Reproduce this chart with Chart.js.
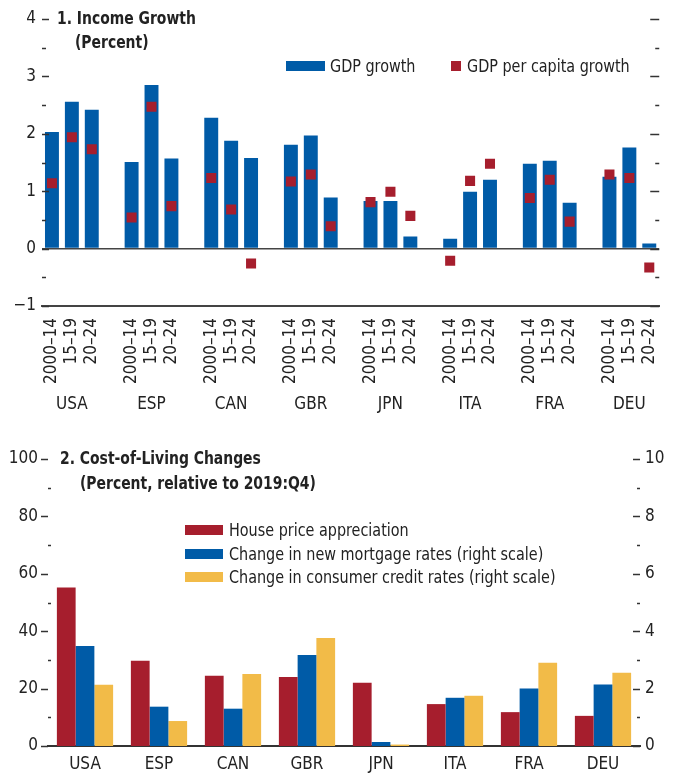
<!DOCTYPE html>
<html lang="en">
<head>
    <meta charset="UTF-8">
    <title>Income Growth and Cost-of-Living Changes</title>
    <script src="https://cdn.jsdelivr.net/npm/chart.js"></script>
    <style>
        body {
            margin: 0;
            background: white;
            font-family: "Liberation Sans Narrow", "DejaVu Sans Condensed", "Liberation Sans", sans-serif;
            color: #222;
        }
        #wrap {
            position: relative;
            width: 682px;
            height: 776px;
        }
        .box {
            position: absolute;
            left: 0;
            width: 682px;
        }
        .txt {
            position: absolute;
            white-space: nowrap;
            font-size: 17px;
            line-height: 22px;
            transform: scaleX(0.94);
            transform-origin: left center;
        }
        .title {
            font-weight: bold;
            font-size: 18px;
            line-height: 24px;
            transform: scaleX(0.86);
        }
        .swatch { position: absolute; }
    </style>
</head>
<body>
<div id="wrap">
    <div class="box" style="top:0;height:430px;"><canvas id="incomeChart"></canvas></div>
    <div class="box" style="top:430px;height:346px;"><canvas id="costChart"></canvas></div>

    <div class="txt title" style="left:57px;top:6px;">1. Income Growth</div>
    <div class="txt title" style="left:75px;top:30px;">(Percent)</div>

    <div class="swatch" style="left:286px;top:61px;width:39px;height:10px;background:#005BA7;"></div>
    <div class="txt" style="left:330px;top:55px;">GDP growth</div>
    <div class="swatch" style="left:451px;top:61px;width:10px;height:10px;background:#A61E2D;"></div>
    <div class="txt" style="left:467px;top:55px;">GDP per capita growth</div>

    <div class="txt title" style="left:60px;top:446px;">2. Cost-of-Living Changes</div>
    <div class="txt title" style="left:80px;top:471px;">(Percent, relative to 2019:Q4)</div>

    <div class="swatch" style="left:185px;top:525px;width:38px;height:10px;background:#A61E2D;"></div>
    <div class="txt" style="left:229px;top:519px;">House price appreciation</div>
    <div class="swatch" style="left:185px;top:549px;width:38px;height:10px;background:#005BA7;"></div>
    <div class="txt" style="left:229px;top:543px;">Change in new mortgage rates (right scale)</div>
    <div class="swatch" style="left:185px;top:572px;width:38px;height:10px;background:#F2BB48;"></div>
    <div class="txt" style="left:229px;top:566px;">Change in consumer credit rates (right scale)</div>
</div>

<script>
    const FONT = '"Liberation Sans Narrow", "DejaVu Sans Condensed", "Liberation Sans", sans-serif';
    const BLUE = '#005BA7';
    const RED = '#A61E2D';
    const YELLOW = '#F2BB48';
    const INK = '#222';

    // panel 1: income growth, percent
    const countries = ['USA', 'ESP', 'CAN', 'GBR', 'JPN', 'ITA', 'FRA', 'DEU'];
    const periods = ['2000\u201314', '15\u201319', '20\u201324'];
    const gdpGrowth = [
        2.03, 2.56, 2.42,
        1.51, 2.85, 1.57,
        2.28, 1.88, 1.58,
        1.81, 1.97, 0.89,
        0.83, 0.83, 0.21,
        0.17, 0.99, 1.20,
        1.48, 1.53, 0.80,
        1.25, 1.76, 0.09
    ];
    const gdpPerCapitaGrowth = [
        1.14, 1.94, 1.73,
        0.54, 2.47, 0.74,
        1.23, 0.68, -0.26,
        1.17, 1.29, 0.39,
        0.81, 0.99, 0.57,
        -0.21, 1.18, 1.48,
        0.88, 1.20, 0.47,
        1.29, 1.23, -0.33
    ];
    const incomeTickLabels = [-1, 0, 1, 2, 3, 4];

    // panel 2: cost of living, percent relative to 2019:Q4
    const housePrice = [55.2, 29.7, 24.5, 24.0, 22.0, 14.6, 11.8, 10.5];
    const mortgageRates = [3.48, 1.37, 1.30, 3.17, 0.14, 1.68, 2.00, 2.14];
    const consumerRates = [2.13, 0.87, 2.51, 3.76, 0.05, 1.75, 2.90, 2.55];
    const leftTickLabels = [0, 20, 40, 60, 80, 100];
    const rightTickLabels = [0, 2, 4, 6, 8, 10];

    Chart.defaults.font.family = FONT;
    Chart.defaults.font.size = 17;
    Chart.defaults.color = INK;

    const fmt = v => (v < 0 ? '\u2212' + Math.abs(v) : String(v));

    // small tick marks on the plot edges, major ones longer
    const edgeTicks = {
        id: 'edgeTicks',
        afterDraw(chart, args, opts) {
            const {ctx, chartArea} = chart;
            ctx.save();
            ctx.strokeStyle = '#333';
            ctx.lineWidth = 1.5;
            opts.sides.forEach(side => {
                const scale = chart.scales[side.axis];
                scale.ticks.forEach(t => {
                    const y = Math.round(scale.getPixelForValue(t.value)) + 0.5;
                    const major = side.labels.includes(t.value);
                    const seg = major ? side.major : side.minor;
                    const x0 = side.edge === 'left' ? chartArea.left : chartArea.right;
                    ctx.beginPath();
                    ctx.moveTo(x0 + seg[0], y);
                    ctx.lineTo(x0 + seg[1], y);
                    ctx.stroke();
                });
            });
            ctx.restore();
        }
    };

    // build the 31 slots of panel 1, one empty slot between countries
    const slotPeriods = [], slotCountries = [], slotGdp = [], slotPerCapita = [];
    countries.forEach((c, i) => {
        if (i > 0) {
            slotPeriods.push(''); slotCountries.push('');
            slotGdp.push(null); slotPerCapita.push(null);
        }
        periods.forEach((p, j) => {
            slotPeriods.push(p);
            slotCountries.push(j === 1 ? c : '');
            slotGdp.push(gdpGrowth[i * 3 + j]);
            slotPerCapita.push(gdpPerCapitaGrowth[i * 3 + j]);
        });
    });

    new Chart(document.getElementById('incomeChart'), {
        type: 'bar',
        data: {
            labels: slotPeriods,
            datasets: [
                {
                    type: 'line',
                    label: 'GDP per capita growth',
                    data: slotPerCapita,
                    showLine: false,
                    pointStyle: 'rect',
                    pointRadius: 7.1,
                    pointBorderWidth: 0,
                    pointBackgroundColor: RED,
                    order: 1
                },
                {
                    type: 'bar',
                    label: 'GDP growth',
                    data: slotGdp,
                    backgroundColor: BLUE,
                    barPercentage: 0.7,
                    categoryPercentage: 1,
                    order: 2
                }
            ]
        },
        options: {
            responsive: true,
            maintainAspectRatio: false,
            animation: false,
            layout: { padding: { top: 19, right: 20, bottom: 10, left: 0 } },
            plugins: {
                legend: { display: false },
                tooltip: { enabled: false },
                edgeTicks: {
                    sides: [
                        { axis: 'y', edge: 'left', labels: incomeTickLabels, major: [0, 7], minor: [0, 4] },
                        { axis: 'y', edge: 'right', labels: incomeTickLabels, major: [-9, 0], minor: [-4, 0] }
                    ]
                }
            },
            scales: {
                x: {
                    offset: true,
                    grid: { display: false, drawTicks: false },
                    border: { display: true, color: '#444', width: 2 },
                    ticks: { autoSkip: false, minRotation: 90, maxRotation: 90, padding: 12 },
                    afterFit: s => { s.height = 80; }
                },
                x2: {
                    type: 'category',
                    labels: slotCountries,
                    position: 'bottom',
                    offset: true,
                    grid: { display: false, drawTicks: false },
                    border: { display: false },
                    ticks: { autoSkip: false, maxRotation: 0, minRotation: 0, padding: 8 },
                    afterFit: s => { s.height = 34; }
                },
                y: {
                    min: -1,
                    max: 4,
                    grid: {
                        drawTicks: false,
                        color: c => (c.tick && c.tick.value === 0 ? '#444' : 'rgba(0,0,0,0)'),
                        lineWidth: 1.5
                    },
                    border: { display: false },
                    ticks: {
                        stepSize: 0.5,
                        padding: 6,
                        callback: v => (incomeTickLabels.includes(v) ? fmt(v) : '')
                    },
                    afterFit: s => { s.width = 42; }
                }
            }
        },
        plugins: [edgeTicks]
    });

    new Chart(document.getElementById('costChart'), {
        type: 'bar',
        data: {
            labels: countries,
            datasets: [
                { label: 'House price appreciation', data: housePrice, backgroundColor: RED, yAxisID: 'y' },
                { label: 'Change in new mortgage rates (right scale)', data: mortgageRates, backgroundColor: BLUE, yAxisID: 'y1' },
                { label: 'Change in consumer credit rates (right scale)', data: consumerRates, backgroundColor: YELLOW, yAxisID: 'y1' }
            ]
        },
        options: {
            responsive: true,
            maintainAspectRatio: false,
            animation: false,
            datasets: { bar: { categoryPercentage: 0.76, barPercentage: 1 } },
            layout: { padding: { top: 29, right: 0, bottom: 0, left: 0 } },
            plugins: {
                legend: { display: false },
                tooltip: { enabled: false },
                edgeTicks: {
                    sides: [
                        { axis: 'y', edge: 'left', labels: leftTickLabels, major: [-7, 0], minor: [0, 3] },
                        { axis: 'y1', edge: 'right', labels: rightTickLabels, major: [-7, 0], minor: [-3, 0] }
                    ]
                }
            },
            scales: {
                x: {
                    grid: { display: false, drawTicks: false },
                    border: { display: true, color: '#333', width: 2 },
                    ticks: { padding: 8 },
                    afterFit: s => { s.height = 30; }
                },
                y: {
                    min: 0,
                    max: 100,
                    grid: { display: false, drawTicks: false },
                    border: { display: false },
                    ticks: {
                        stepSize: 10,
                        padding: 10,
                        callback: v => (leftTickLabels.includes(v) ? fmt(v) : '')
                    },
                    afterFit: s => { s.width = 48; }
                },
                y1: {
                    position: 'right',
                    min: 0,
                    max: 10,
                    grid: { display: false, drawTicks: false },
                    border: { display: false },
                    ticks: {
                        stepSize: 1,
                        padding: 5,
                        callback: v => (rightTickLabels.includes(v) ? fmt(v) : '')
                    },
                    afterFit: s => { s.width = 42; }
                }
            }
        },
        plugins: [edgeTicks]
    });
</script>
</body>
</html>
